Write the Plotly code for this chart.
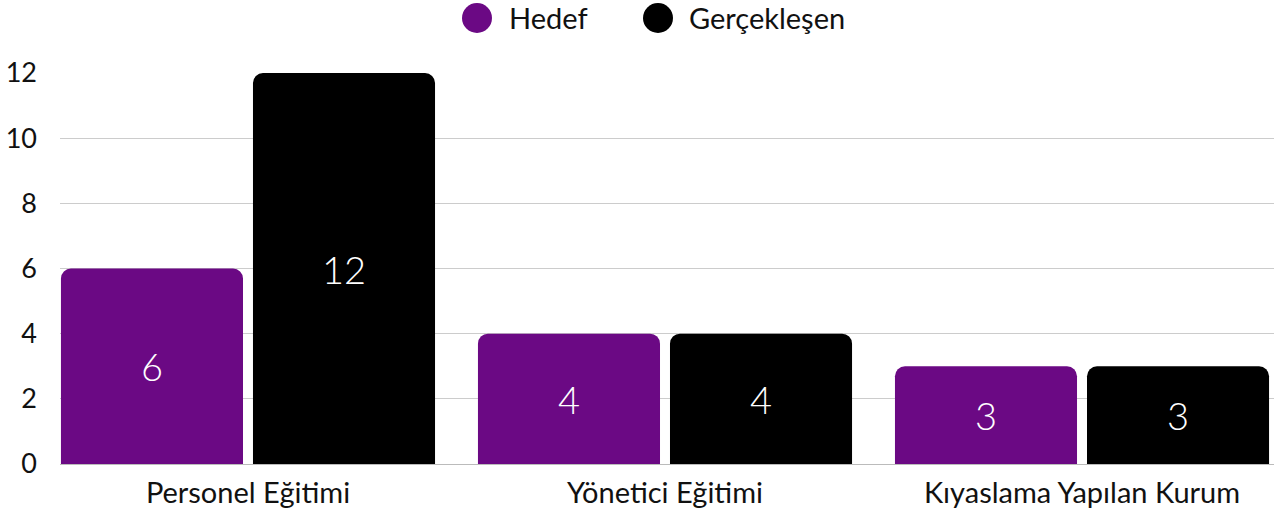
import plotly.graph_objects as go

categories = ["Personel Eğitimi", "Yönetici Eğitimi", "Kıyaslama Yapılan Kurum"]
hedef = [6, 4, 3]
gerceklesen = [12, 4, 3]
y_ticks = [0, 2, 4, 6, 8, 10, 12]
series_names = ["Hedef", "Gerçekleşen"]

PURPLE = "#6b0984"
BLACK = "#000000"
COLORS = [PURPLE, BLACK]
FONT = "Lato"
TXT = "#111111"

# plot-area geometry (pixels)
L, R, T, B, W, H = 60, 0, 73, 49, 1274, 513
PW, PH = W - L - R, H - T - B

def px_to_paper_x(px):
    return (px - L) / PW

def px_to_paper_y(py):
    return (H - B - py) / PH

fig = go.Figure()
for name, vals, col in zip(series_names, [hedef, gerceklesen], COLORS):
    fig.add_trace(go.Bar(
        x=categories, y=vals, name=name, marker=dict(color=col, line=dict(width=0)),
        text=[str(v) for v in vals], textposition="inside", insidetextanchor="middle",
        textfont=dict(color="white", size=38, family=FONT, weight=300),
        showlegend=False, hoverinfo="skip",
    ))

# custom legend with large circular swatches
legend_circle_px = [477, 658]
legend_text_px = [507, 687]
legend_y = px_to_paper_y(18)
shapes, annotations = [], []
for name, col, cx, tx in zip(series_names, COLORS, legend_circle_px, legend_text_px):
    shapes.append(dict(type="circle", xref="paper", yref="paper",
                       xsizemode="pixel", ysizemode="pixel",
                       xanchor=px_to_paper_x(cx), yanchor=legend_y,
                       x0=-15, x1=15, y0=-15, y1=15,
                       fillcolor=col, line=dict(width=0)))
    annotations.append(dict(text=name, xref="paper", yref="paper",
                            x=px_to_paper_x(tx), y=legend_y, xanchor="left",
                            yanchor="middle", showarrow=False,
                            font=dict(size=29, family=FONT, color=TXT)))

fig.update_layout(
    width=W, height=H,
    margin=dict(l=L, r=R, t=T, b=B, autoexpand=False),
    paper_bgcolor="white", plot_bgcolor="white",
    barmode="group", bargap=0.079, bargroupgap=0.052, barcornerradius=10,
    font=dict(family=FONT, size=24, color=TXT),
    showlegend=False,
    shapes=shapes, annotations=annotations,
    xaxis=dict(type="category", range=[-0.4508, 2.4604], showgrid=False,
               showline=True, linecolor="#bbbbbb", linewidth=1, ticks="",
               automargin=False, ticklabelstandoff=3, tickfont=dict(size=29)),
    yaxis=dict(range=[0, 12], tickvals=y_ticks, showgrid=True, gridcolor="#cccccc",
               gridwidth=1, zeroline=False, showline=False, ticks="",
               automargin=False, ticklabelstandoff=22, tickfont=dict(size=27)),
)

fig.write_html("out.html", config={"displayModeBar": False},
               post_script="document.body.style.margin='0';document.body.style.overflow='hidden';")
